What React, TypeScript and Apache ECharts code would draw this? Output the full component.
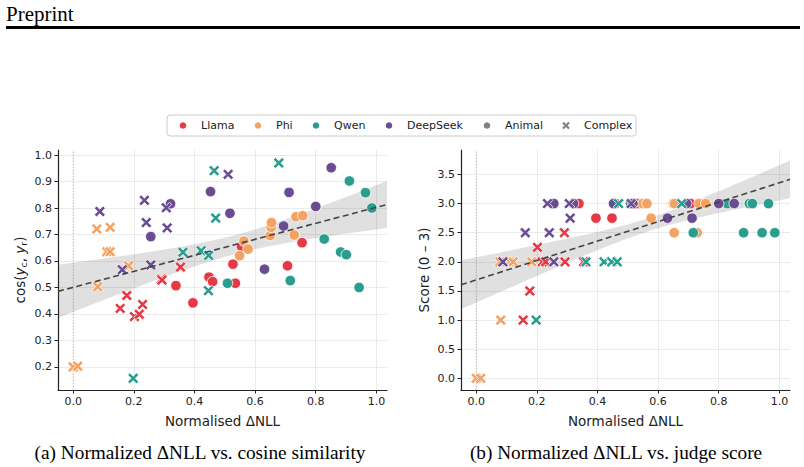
import React, { useEffect, useRef } from 'react';
import * as echarts from 'echarts';

// ---- model colours ----
const MODELS = ['Llama', 'Phi', 'Qwen', 'DeepSeek'];
const MODEL_COLORS = ['#e63946', '#f4a261', '#2a9d8f', '#6a4c93'];
const KIND_COLOR = '#808080';

// ---- Llama ----
const LLAMA_ANIMAL_DNLL = [0.339, 0.395, 0.448, 0.460, 0.535, 0.527, 0.555, 0.707, 0.755];
const LLAMA_ANIMAL_COS = [0.507, 0.442, 0.539, 0.522, 0.516, 0.588, 0.655, 0.582, 0.669];
const LLAMA_ANIMAL_SCORE = [3.0, 2.75, 2.75, 3.0, 3.0, 3.0, 3.0, 3.0, 3.0];
const LLAMA_COMPLEX_DNLL = [0.155, 0.177, 0.202, 0.218, 0.229, 0.291, 0.293, 0.354];
const LLAMA_COMPLEX_COS = [0.421, 0.470, 0.390, 0.399, 0.436, 0.532, 0.528, 0.577];
const LLAMA_COMPLEX_SCORE = [1.0, 1.5, 2.25, 2.0, 2.0, 2.5, 2.0, 2.0];

// ---- Phi ----
const PHI_ANIMAL_DNLL = [0.549, 0.563, 0.577, 0.650, 0.653, 0.654, 0.729, 0.735, 0.757];
const PHI_ANIMAL_COS = [0.620, 0.675, 0.645, 0.696, 0.727, 0.745, 0.698, 0.767, 0.771];
const PHI_ANIMAL_SCORE = [3.0, 3.0, 2.75, 3.0, 2.5, 3.0, 2.5, 3.0, 3.0];
const PHI_COMPLEX_DNLL = [0.0, 0.015, 0.078, 0.081, 0.111, 0.122, 0.122, 0.183];
const PHI_COMPLEX_COS = [0.200, 0.203, 0.721, 0.503, 0.635, 0.727, 0.635, 0.582];
const PHI_COMPLEX_SCORE = [0.0, 0.0, 2.0, 1.0, 2.0, 2.0, 2.0, 2.0];

// ---- Qwen ----
const QWEN_ANIMAL_DNLL = [0.509, 0.716, 0.828, 0.882, 0.901, 0.911, 0.943, 0.964, 0.985];
const QWEN_ANIMAL_COS = [0.516, 0.526, 0.683, 0.634, 0.624, 0.902, 0.500, 0.858, 0.800];
const QWEN_ANIMAL_SCORE = [3.0, 2.5, 3.0, 2.5, 3.0, 3.0, 2.5, 3.0, 2.5];
const QWEN_COMPLEX_DNLL = [0.198, 0.362, 0.422, 0.446, 0.447, 0.465, 0.470, 0.678];
const QWEN_COMPLEX_COS = [0.157, 0.633, 0.639, 0.488, 0.621, 0.941, 0.762, 0.970];
const QWEN_COMPLEX_SCORE = [1.0, 2.0, 2.0, 2.0, 2.0, 2.0, 3.0, 3.0];

// ---- DeepSeek ----
const DEEPSEEK_ANIMAL_DNLL = [0.256, 0.321, 0.453, 0.517, 0.631, 0.694, 0.712, 0.800, 0.851];
const DEEPSEEK_ANIMAL_COS = [0.692, 0.816, 0.862, 0.780, 0.569, 0.732, 0.859, 0.806, 0.952];
const DEEPSEEK_ANIMAL_SCORE = [3.0, 3.0, 3.0, 3.0, 2.75, 3.0, 2.75, 3.0, 3.0];
const DEEPSEEK_COMPLEX_DNLL = [0.088, 0.162, 0.235, 0.241, 0.256, 0.307, 0.310, 0.511];
const DEEPSEEK_COMPLEX_COS = [0.787, 0.567, 0.829, 0.745, 0.585, 0.801, 0.725, 0.927];
const DEEPSEEK_COMPLEX_SCORE = [2.0, 2.5, 3.0, 2.5, 2.0, 3.0, 2.75, 3.0];

// ---- axes ----
const X_TICKS = [0.0, 0.2, 0.4, 0.6, 0.8, 1.0];
const COS_TICKS = [0.2, 0.3, 0.4, 0.5, 0.6, 0.7, 0.8, 0.9, 1.0];
const SCORE_TICKS = [0.0, 0.5, 1.0, 1.5, 2.0, 2.5, 3.0, 3.5];
const X_MIN = -0.05;
const X_MAX = 1.035;
const COS_MIN = 0.113;
const COS_MAX = 1.019;
const SCORE_MIN = -0.2;
const SCORE_MAX = 3.92;

// ---- legend entries ----
const LEGEND_LABELS = ['Llama', 'Phi', 'Qwen', 'DeepSeek', 'Animal', 'Complex'];
const LEGEND_COLORS = [...MODEL_COLORS, KIND_COLOR, KIND_COLOR];
const LEGEND_MARKERS = ['circle', 'circle', 'circle', 'circle', 'circle', 'x'];

// filled "X" marker in a 20x20 box
const X_POINTS = [
  [4, 0], [10, 6], [16, 0], [20, 4], [14, 10], [20, 16],
  [16, 20], [10, 14], [4, 20], [0, 16], [6, 10], [0, 4],
];
const X_SYMBOL = 'path://M' + X_POINTS.map((p) => p.join(',')).join('L') + 'Z';

type Group = { model: number; kind: 'Animal' | 'Complex'; dnll: number[]; cos: number[]; score: number[] };

const GROUPS: Group[] = [
  { model: 0, kind: 'Animal', dnll: LLAMA_ANIMAL_DNLL, cos: LLAMA_ANIMAL_COS, score: LLAMA_ANIMAL_SCORE },
  { model: 1, kind: 'Animal', dnll: PHI_ANIMAL_DNLL, cos: PHI_ANIMAL_COS, score: PHI_ANIMAL_SCORE },
  { model: 2, kind: 'Animal', dnll: QWEN_ANIMAL_DNLL, cos: QWEN_ANIMAL_COS, score: QWEN_ANIMAL_SCORE },
  { model: 3, kind: 'Animal', dnll: DEEPSEEK_ANIMAL_DNLL, cos: DEEPSEEK_ANIMAL_COS, score: DEEPSEEK_ANIMAL_SCORE },
  { model: 0, kind: 'Complex', dnll: LLAMA_COMPLEX_DNLL, cos: LLAMA_COMPLEX_COS, score: LLAMA_COMPLEX_SCORE },
  { model: 1, kind: 'Complex', dnll: PHI_COMPLEX_DNLL, cos: PHI_COMPLEX_COS, score: PHI_COMPLEX_SCORE },
  { model: 2, kind: 'Complex', dnll: QWEN_COMPLEX_DNLL, cos: QWEN_COMPLEX_COS, score: QWEN_COMPLEX_SCORE },
  { model: 3, kind: 'Complex', dnll: DEEPSEEK_COMPLEX_DNLL, cos: DEEPSEEK_COMPLEX_COS, score: DEEPSEEK_COMPLEX_SCORE },
];

// Ordinary least squares; 95% band for the mean uses a robust (HC3) covariance
function linearFit(xs: number[], ys: number[]) {
  const n = xs.length;
  const mx = xs.reduce((a, b) => a + b, 0) / n;
  const my = ys.reduce((a, b) => a + b, 0) / n;
  let sxx = 0;
  let sxy = 0;
  for (let i = 0; i < n; i++) {
    sxx += (xs[i] - mx) ** 2;
    sxy += (xs[i] - mx) * (ys[i] - my);
  }
  const slope = sxy / sxx;
  const intercept = my - slope * mx;

  const sx = xs.reduce((a, b) => a + b, 0);
  const sx2 = xs.reduce((a, b) => a + b * b, 0);
  const det = n * sx2 - sx * sx;
  const A = [
    [sx2 / det, -sx / det],
    [-sx / det, n / det],
  ];
  const M = [
    [0, 0],
    [0, 0],
  ];
  for (let i = 0; i < n; i++) {
    const e = ys[i] - intercept - slope * xs[i];
    const h = 1 / n + (xs[i] - mx) ** 2 / sxx;
    const w = (e * e) / ((1 - h) * (1 - h));
    M[0][0] += w;
    M[0][1] += w * xs[i];
    M[1][0] += w * xs[i];
    M[1][1] += w * xs[i] * xs[i];
  }
  const mul = (P: number[][], Q: number[][]) => [
    [P[0][0] * Q[0][0] + P[0][1] * Q[1][0], P[0][0] * Q[0][1] + P[0][1] * Q[1][1]],
    [P[1][0] * Q[0][0] + P[1][1] * Q[1][0], P[1][0] * Q[0][1] + P[1][1] * Q[1][1]],
  ];
  const V = mul(mul(A, M), A);
  const predict = (x: number) => intercept + slope * x;
  const half = (x: number) => 1.96 * Math.sqrt(V[0][0] + 2 * x * V[0][1] + x * x * V[1][1]);
  return { predict, half };
}

const FONT = 'DejaVu Sans';
const TEXT = '#222';

function panelSeries(panel: 0 | 1) {
  const xs: number[] = [];
  const ys: number[] = [];
  const series: any[] = [];
  GROUPS.forEach((g) => {
    const vals = panel === 0 ? g.cos : g.score;
    g.dnll.forEach((x, i) => {
      xs.push(x);
      ys.push(vals[i]);
    });
    series.push({
      type: 'scatter',
      name: MODELS[g.model],
      xAxisIndex: panel,
      yAxisIndex: panel,
      symbol: g.kind === 'Animal' ? 'circle' : X_SYMBOL,
      symbolSize: g.kind === 'Animal' ? 10.5 : 11,
      itemStyle: { color: MODEL_COLORS[g.model], borderColor: '#ffffff', borderWidth: 0.8, opacity: 1 },
      data: g.dnll.map((x, i) => [x, vals[i]]),
      z: 3,
      silent: true,
    });
  });

  const fit = linearFit(xs, ys);
  const steps = 60;
  const band: number[][] = [];
  for (let k = 0; k <= steps; k++) {
    const x = X_MIN + ((X_MAX - X_MIN) * k) / steps;
    const m = fit.predict(x);
    const h = fit.half(x);
    band.push([x, m - h, m + h]);
  }

  const yMin = panel === 0 ? COS_MIN : SCORE_MIN;
  const yMax = panel === 0 ? COS_MAX : SCORE_MAX;

  const extra: any[] = [
    {
      type: 'custom',
      name: 'ci' + panel,
      xAxisIndex: panel,
      yAxisIndex: panel,
      silent: true,
      z: 1,
      data: band.map((b) => [b[0], b[2]]),
      encode: { x: 0, y: 1 },
      renderItem: (params: any, api: any) => {
        if (params.dataIndex !== 0) return null;
        const upper = band.map((b) => api.coord([b[0], b[2]]));
        const lower = band.map((b) => api.coord([b[0], b[1]])).reverse();
        return {
          type: 'polygon',
          shape: { points: upper.concat(lower) },
          style: { fill: 'rgba(70,70,70,0.17)' },
        };
      },
    },
    {
      type: 'line',
      name: 'zero' + panel,
      xAxisIndex: panel,
      yAxisIndex: panel,
      silent: true,
      z: 2,
      symbol: 'none',
      data: [
        [0, yMin],
        [0, yMax],
      ],
      lineStyle: { color: '#a8a8a8', width: 0.8, type: [1.2, 1.8] },
    },
    {
      type: 'line',
      name: 'fit' + panel,
      xAxisIndex: panel,
      yAxisIndex: panel,
      silent: true,
      z: 4,
      symbol: 'none',
      data: [
        [X_MIN, fit.predict(X_MIN)],
        [X_MAX, fit.predict(X_MAX)],
      ],
      lineStyle: { color: '#444444', width: 1.6, type: [6, 3.5] },
    },
  ];
  return [...extra, ...series];
}

function xAxis(grid: number) {
  return {
    type: 'value',
    gridIndex: grid,
    min: X_MIN,
    max: X_MAX,
    name: 'Normalised ΔNLL',
    nameLocation: 'middle',
    nameGap: 24,
    nameTextStyle: { fontFamily: FONT, fontSize: 13.5, color: TEXT },
    axisLine: { show: true, onZero: false, lineStyle: { color: '#222', width: 1.2 } },
    axisTick: { show: true, length: 3.5, customValues: X_TICKS, lineStyle: { color: '#222' } },
    axisLabel: {
      customValues: X_TICKS,
      formatter: (v: number) => v.toFixed(1),
      fontFamily: FONT,
      fontSize: 11,
      color: TEXT,
      margin: 6,
    },
    splitLine: { show: true, lineStyle: { color: '#ebebeb', width: 1 } },
  };
}

function yAxis(grid: number, min: number, max: number, ticks: number[], name: string, rich?: any) {
  return {
    type: 'value',
    gridIndex: grid,
    min,
    max,
    name,
    nameLocation: 'middle',
    nameGap: 30,
    nameTextStyle: { fontFamily: FONT, fontSize: 13.5, color: TEXT, rich },
    axisLine: { show: true, onZero: false, lineStyle: { color: '#222', width: 1.2 } },
    axisTick: { show: true, length: 3.5, customValues: ticks, lineStyle: { color: '#222' } },
    axisLabel: {
      customValues: ticks,
      formatter: (v: number) => v.toFixed(1),
      fontFamily: FONT,
      fontSize: 11,
      color: TEXT,
      margin: 6,
    },
    splitLine: { show: true, lineStyle: { color: '#ebebeb', width: 1 } },
  };
}

// Legend drawn as a framed row of marker + label pairs
function legendGraphic() {
  const boxX = 167;
  const boxY = 115;
  const boxW = 469;
  const boxH = 21;
  const cy = boxY + boxH / 2;
  const markerX = [183, 258, 316, 389, 487, 566];
  const els: any[] = [
    {
      type: 'rect',
      shape: { x: boxX, y: boxY, width: boxW, height: boxH, r: 3 },
      style: { fill: '#ffffff', stroke: '#cccccc', lineWidth: 1 },
      z: 10,
    },
  ];
  LEGEND_LABELS.forEach((label, i) => {
    const mx = markerX[i];
    if (LEGEND_MARKERS[i] === 'circle') {
      els.push({
        type: 'circle',
        shape: { cx: mx, cy, r: 3.3 },
        style: { fill: LEGEND_COLORS[i] },
        z: 11,
      });
    } else {
      const s = 7.5 / 20;
      els.push({
        type: 'polygon',
        shape: { points: X_POINTS.map((p) => [mx - 3.75 + p[0] * s, cy - 3.75 + p[1] * s]) },
        style: { fill: LEGEND_COLORS[i] },
        z: 11,
      });
    }
    els.push({
      type: 'text',
      x: mx + 18,
      y: cy,
      style: {
        text: label,
        font: `11px "${FONT}"`,
        fill: TEXT,
        align: 'left',
        verticalAlign: 'middle',
      },
      z: 11,
    });
  });
  return els;
}

export default function App() {
  const ref = useRef<HTMLDivElement>(null);

  useEffect(() => {
    if (!ref.current) return;
    const chart = echarts.init(ref.current, undefined, { renderer: 'svg' });

    const cosRich = {
      t: { fontFamily: FONT, fontSize: 13.5, color: TEXT },
      i: { fontFamily: FONT, fontSize: 13.5, color: TEXT, fontStyle: 'italic' },
      s: { fontFamily: FONT, fontSize: 9.5, color: TEXT, padding: [6, 0, 0, 0] },
    };

    chart.setOption({
      animation: false,
      backgroundColor: '#ffffff',
      grid: [
        { left: 58, top: 150, width: 329, height: 240 },
        { left: 461, top: 150, width: 329, height: 240 },
      ],
      xAxis: [xAxis(0), xAxis(1)],
      yAxis: [
        yAxis(0, COS_MIN, COS_MAX, COS_TICKS, '{t|cos(}{i|y}{s|c}{t|, }{i|y}{s|r}{t|)}', cosRich),
        yAxis(1, SCORE_MIN, SCORE_MAX, SCORE_TICKS, 'Score (0 – 3)'),
      ],
      graphic: [
        {
          type: 'text',
          x: 6,
          y: 3,
          style: { text: 'Preprint', font: '21px "Liberation Serif"', fill: '#000' },
        },
        {
          type: 'rect',
          shape: { x: 6, y: 26, width: 794, height: 3 },
          style: { fill: '#000' },
        },
        ...legendGraphic(),
        {
          type: 'text',
          x: 200,
          y: 452,
          style: {
            text: '(a) Normalized ΔNLL vs. cosine similarity',
            font: '19.3px "Liberation Serif"',
            fill: '#000',
            align: 'center',
            verticalAlign: 'middle',
          },
        },
        {
          type: 'text',
          x: 616,
          y: 452,
          style: {
            text: '(b) Normalized ΔNLL vs. judge score',
            font: '19.3px "Liberation Serif"',
            fill: '#000',
            align: 'center',
            verticalAlign: 'middle',
          },
        },
      ],
      series: [...panelSeries(0), ...panelSeries(1)],
    });

    return () => chart.dispose();
  }, []);

  return (
    <div
      ref={ref}
      style={{ position: 'fixed', left: 0, top: 0, width: 804, height: 467, background: '#fff' }}
    />
  );
}
